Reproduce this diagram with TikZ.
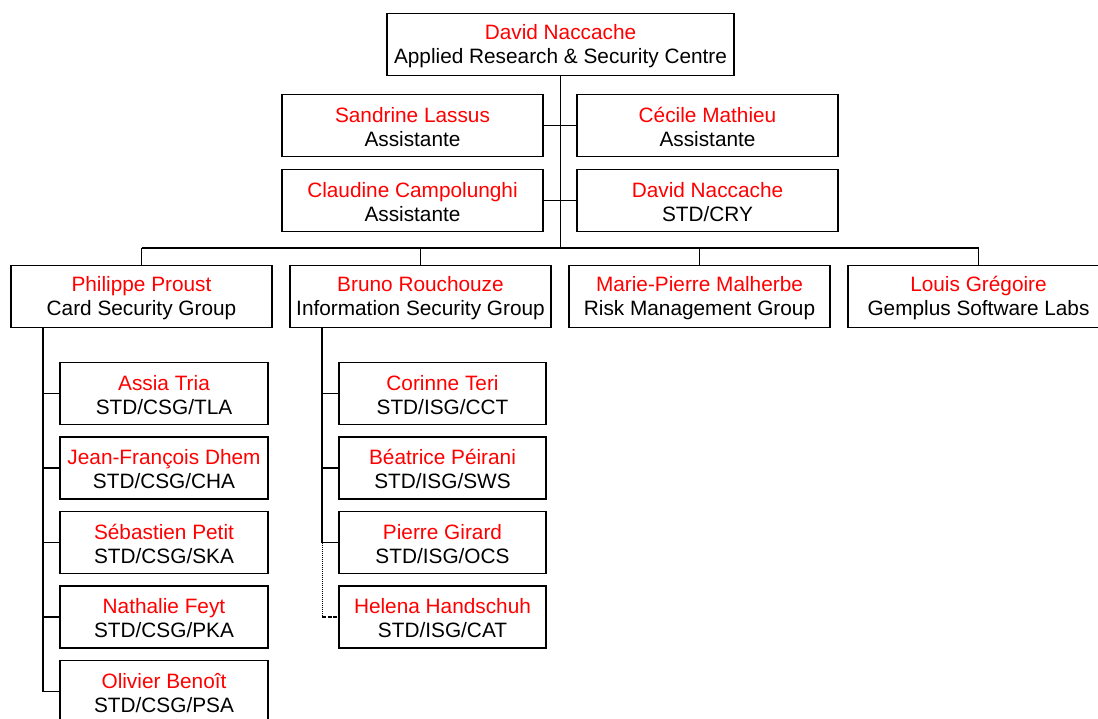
\documentclass[tikz,border=0pt]{standalone}
\usepackage{fontspec}
\setmainfont{Liberation Sans}
\definecolor{namered}{RGB}{255,0,0}
\newcommand{\pbox}[2]{\rule{0pt}{17.5pt}\textcolor{namered}{#1}\\#2}
\begin{document}
\begin{tikzpicture}[x=1pt,y=-1pt,
  orgbox/.style={draw=black, line width=1.2pt, fill=white, minimum width=261pt, minimum height=62pt,
    inner sep=0pt, align=center, font=\fontsize{20.8}{24}\selectfont},
  smallbox/.style={orgbox, minimum width=207pt},
  link/.style={line width=1.2pt}]
\useasboundingbox (0,0) rectangle (1098,718);
% nodes
\node[orgbox, minimum width=347pt] (top) at (560.5,44.5) {\pbox{David Naccache}{Applied Research \& Security Centre}};
\node[orgbox] (sand) at (412.5,125.5) {\pbox{Sandrine Lassus}{Assistante}};
\node[orgbox] (cec) at (707.5,125.5) {\pbox{Cécile Mathieu}{Assistante}};
\node[orgbox] (clau) at (412.5,200.5) {\pbox{Claudine Campolunghi}{Assistante}};
\node[orgbox] (dcry) at (707.5,200.5) {\pbox{David Naccache}{STD/CRY}};
\coordinate (bus) at (560,248);
\node[orgbox] (csg) at (141.5,296.5) {\pbox{Philippe Proust}{Card Security Group}};
\node[orgbox] (isg) at (420.5,296.5) {\pbox{Bruno Rouchouze}{Information Security Group}};
\node[orgbox] (rmg) at (699.5,296.5) {\pbox{Marie-Pierre Malherbe}{Risk Management Group}};
\node[orgbox] (gsl) at (978.5,296.5) {\pbox{Louis Grégoire}{Gemplus Software Labs}};
% CSG
\node[smallbox, minimum width=208pt] (c1) at (164,393.5) {\pbox{Assia Tria}{STD/CSG/TLA}};
\node[smallbox, minimum width=208pt] (c2) at (164,468) {\pbox{Jean-François Dhem}{STD/CSG/CHA}};
\node[smallbox, minimum width=208pt] (c3) at (164,542.5) {\pbox{Sébastien Petit}{STD/CSG/SKA}};
\node[smallbox, minimum width=208pt] (c4) at (164,617) {\pbox{Nathalie Feyt}{STD/CSG/PKA}};
\node[smallbox, minimum width=208pt] (c5) at (164,691.5) {\pbox{Olivier Benoît}{STD/CSG/PSA}};
% ISG
\node[smallbox] (i1) at (442.5,393.5) {\pbox{Corinne Teri}{STD/ISG/CCT}};
\node[smallbox] (i2) at (442.5,468) {\pbox{Béatrice Péirani}{STD/ISG/SWS}};
\node[smallbox] (i3) at (442.5,542.5) {\pbox{Pierre Girard}{STD/ISG/OCS}};
\node[smallbox] (i4) at (442.5,617) {\pbox{Helena Handschuh}{STD/ISG/CAT}};
\coordinate (csgx) at (43,327);
\coordinate (isgx) at (322,327);
% connectors
\draw[link] (top.south) -- (top.south |- bus);
\draw[link] (sand.east) -- (cec.west);
\draw[link] (clau.east) -- (dcry.west);
\draw[link] (csg.north |- bus) -- (gsl.north |- bus);
\foreach \n in {csg,isg,rmg,gsl} \draw[link] (\n.north) -- (\n.north |- bus);
\draw[link] (csgx |- csg.south) -- (csgx |- c5.west);
\foreach \n in {c1,c2,c3,c4,c5} \draw[link] (\n.west) -- (csgx |- \n.west);
\draw[link] (isgx |- isg.south) -- (isgx |- i3.west);
\foreach \n in {i1,i2,i3} \draw[link] (\n.west) -- (isgx |- \n.west);
\draw[line width=1pt, densely dotted] (isgx |- i3.west) -- (isgx |- i4.west);
\draw[line width=1.2pt, dash pattern=on 4pt off 1.5pt] (isgx |- i4.west) -- (i4.west);
\end{tikzpicture}
\end{document}
